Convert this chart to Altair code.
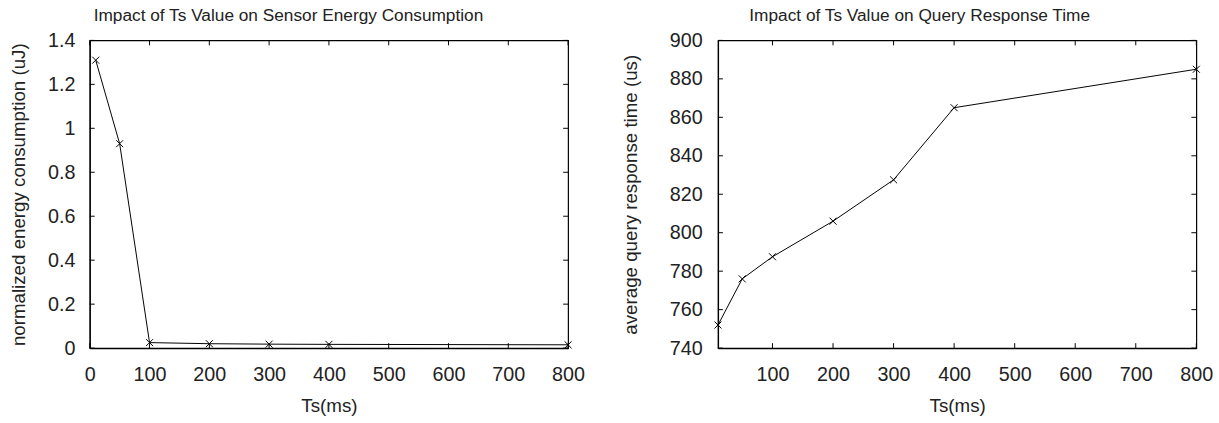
import altair as alt
import pandas as pd

ts = [10, 50, 100, 200, 300, 400, 800]
energy = [1.31, 0.93, 0.025, 0.02, 0.018, 0.017, 0.015]
response = [752, 776, 787.5, 806, 827.5, 865, 885]

left_xticks = [0, 100, 200, 300, 400, 500, 600, 700, 800]
right_xticks = [100, 200, 300, 400, 500, 600, 700, 800]
left_yticks = [0, 0.2, 0.4, 0.6, 0.8, 1.0, 1.2, 1.4]
right_yticks = [740, 760, 780, 800, 820, 840, 860, 880, 900]

W, H = 485, 312
FONT = "Liberation Sans"
TXT = "#222222"
TL = 5


def panel(xs, ys, xdomain, xticks, ydomain, yticks, title, ytitle, yfmt, lpad, tpad, tdx):
    df = pd.DataFrame({"ts": xs, "val": ys})
    xscale = alt.Scale(domain=xdomain, nice=False, zero=False)
    yscale = alt.Scale(domain=ydomain, nice=False, zero=False)
    xaxis = alt.Axis(values=xticks, title="Ts(ms)", ticks=False, grid=False,
                     labelFlush=False, labelOverlap=False, labelPadding=17, titlePadding=12)
    yaxis = alt.Axis(values=yticks, title=ytitle, ticks=False, grid=False,
                     labelOverlap=False, labelFlush=False,
                     format=yfmt, labelPadding=lpad, titlePadding=tpad)
    xenc = alt.X("ts:Q", scale=xscale, axis=xaxis)
    yenc = alt.Y("val:Q", scale=yscale, axis=yaxis)
    line = alt.Chart(df).mark_line(color="black", strokeWidth=1).encode(x=xenc, y=yenc)
    pts = alt.Chart(df).mark_point(shape="M-1,-1L1,1M-1,1L1,-1", size=50, color="black",
                                   filled=False, strokeWidth=1, opacity=1).encode(x=xenc, y=yenc)
    xt = pd.DataFrame({"ts": xticks})
    yt = pd.DataFrame({"val": yticks})
    bt = alt.Chart(xt).mark_rule(color="black", strokeWidth=1).encode(x=xenc, y=alt.value(H), y2=alt.value(H - TL))
    tt = alt.Chart(xt).mark_rule(color="black", strokeWidth=1).encode(x=xenc, y=alt.value(0), y2=alt.value(TL))
    lt = alt.Chart(yt).mark_rule(color="black", strokeWidth=1).encode(y=yenc, x=alt.value(0), x2=alt.value(TL))
    rt = alt.Chart(yt).mark_rule(color="black", strokeWidth=1).encode(y=yenc, x=alt.value(W), x2=alt.value(W - TL))
    return alt.layer(line, pts, bt, tt, lt, rt).properties(
        width=W, height=H,
        title=alt.TitleParams(title, fontSize=17.5, font=FONT, fontWeight="normal", color=TXT,
                              offset=6, dx=tdx),
    )


left = panel(ts, energy, [0, 800], left_xticks, [0, 1.4], left_yticks,
             "Impact of Ts Value on Sensor Energy Consumption", "normalized energy consumption (uJ)",
             "~g", 15, 19, -41)
right = panel(ts, response, [10, 800], right_xticks, [740, 900], right_yticks,
              "Impact of Ts Value on Query Response Time", "average query response time (us)",
              "d", 16, 29, -38)

chart = alt.hconcat(left, right, spacing=36).configure_view(
    stroke="black", strokeWidth=1.2
).configure_axis(
    labelFont=FONT, titleFont=FONT, labelFontSize=20, titleFontSize=19,
    labelColor=TXT, titleColor=TXT, titleFontWeight="normal",
    domainColor="black", domainWidth=1.2,
).properties(padding={"left": 9, "top": 3, "right": 5, "bottom": 5})

chart.save("out.html", embed_options={"renderer": "svg", "actions": False})
